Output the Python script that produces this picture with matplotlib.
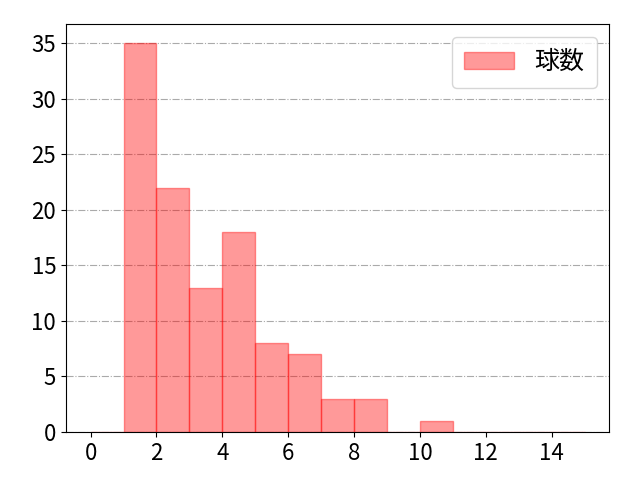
import numpy as np
import matplotlib
matplotlib.use("Agg")
import matplotlib.pyplot as plt

plt.rcParams['font.family'] = ['Noto Sans CJK JP', 'DejaVu Sans']

# pitch count histogram
bin_edges = list(range(0, 16))
counts = [0, 35, 22, 13, 18, 8, 7, 3, 3, 0, 1, 0, 0, 0, 0]
label = "球数"

fig, ax = plt.subplots(figsize=(6.4, 4.8), dpi=100)
ax.hist(bin_edges[:-1], bins=bin_edges, weights=counts,
        color='red', alpha=0.4, edgecolor='red', label=label)
ax.grid(axis='y', linestyle='-.', color='#aaaaaa', linewidth=0.8)
ax.set_axisbelow(True)
ax.set_xticks(range(0, 15, 2))
ax.tick_params(labelsize=16)
ax.legend(fontsize=18, loc='upper right', handlelength=2.0, borderpad=0.5)
fig.subplots_adjust(left=0.103, right=0.952, top=0.95, bottom=0.1)
fig.savefig("out.png")
